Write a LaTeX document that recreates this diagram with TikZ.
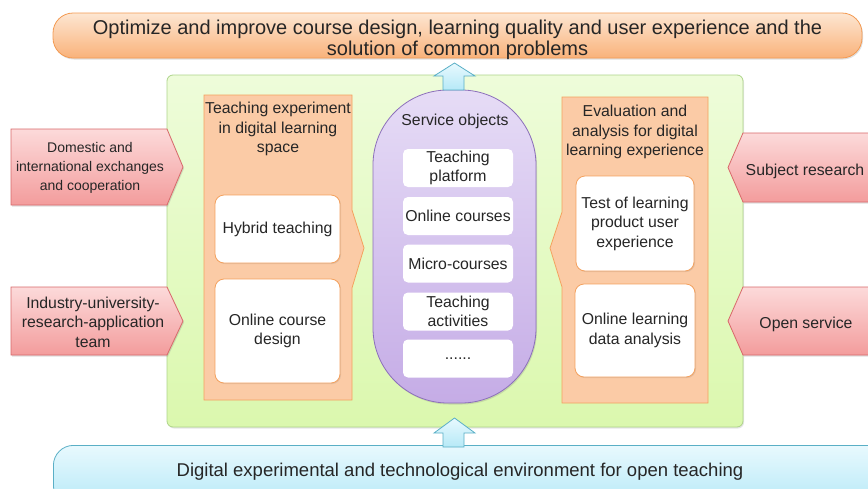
\documentclass[tikz,border=0pt]{standalone}
\usepackage{fontspec}
\setmainfont{Liberation Sans}
\usepackage{tikz}
\usetikzlibrary{positioning,shadows}

\definecolor{bannerO}{HTML}{F9B27A}
\definecolor{bannerOl}{HTML}{FDE6D2}
\definecolor{bannerOd}{HTML}{F39A52}
\definecolor{envB}{HTML}{B6E9F7}
\definecolor{envBl}{HTML}{E8F9FE}
\definecolor{envBd}{HTML}{5AAFC6}
\definecolor{greenF}{HTML}{DBF8AE}
\definecolor{greenFl}{HTML}{EEFCDA}
\definecolor{greenD}{HTML}{AED48A}
\definecolor{panelF}{HTML}{FBCBA6}
\definecolor{panelD}{HTML}{F4A15E}
\definecolor{purF}{HTML}{C5ACE6}
\definecolor{purFl}{HTML}{E6DCF6}
\definecolor{purD}{HTML}{8C6FBB}
\definecolor{redF}{HTML}{F39C9C}
\definecolor{redFl}{HTML}{FCDADA}
\definecolor{redD}{HTML}{D8686A}

\begin{document}
\begin{tikzpicture}[x=1pt,y=-1pt,
  txt/.style={font=\fontsize{15.8}{19.5}\selectfont, align=center, text=black!85},
  banner/.style={rounded corners=20pt, line width=0.8pt,
    drop shadow={opacity=0.25, shadow xshift=1pt, shadow yshift=-1.5pt}},
  sidearrow/.style={draw=redD, line width=0.8pt, top color=redFl, bottom color=redF,
    drop shadow={opacity=0.25, shadow xshift=1pt, shadow yshift=-1.5pt}},
  panel/.style={draw=panelD, line width=0.8pt, fill=panelF},
  wbox/.style={draw=panelD, fill=white, rounded corners=9pt, line width=0.8pt,
    drop shadow={opacity=0.2, shadow xshift=1pt, shadow yshift=-1pt}},
  sbox/.style={fill=white, rounded corners=5pt, minimum width=110pt, minimum height=38pt,
    inner sep=0pt, txt},
  uparrow/.style={draw=envBd, line width=0.8pt, top color=envBl, bottom color=envB},
]
\useasboundingbox (0,0) rectangle (868,488);

% banners top and bottom
\node[banner, draw=bannerOd, top color=bannerOl, bottom color=bannerO,
      minimum width=809pt, minimum height=45pt, inner sep=0pt] (goal) at (457.5,35.5) {};
\node[align=center, font=\fontsize{20}{21}\selectfont, text=black!85] (goaltext) at (457.5,39.5)
  {Optimize and improve course design, learning quality and user experience and the\\
   solution of common problems};
\node[banner, draw=envBd, top color=envBl, bottom color=envB,
      minimum width=840pt, minimum height=60pt, anchor=north west, inner sep=0pt] (env) at (53,445) {};
\node[font=\fontsize{18.5}{20}\selectfont, text=black!85] (envtext) at (460,472)
  {Digital experimental and technological environment for open teaching};

% green frame
\node[draw=greenD, line width=0.8pt, top color=greenFl, bottom color=greenF,
      rounded corners=6pt, minimum width=576pt, minimum height=352pt,
      drop shadow={opacity=0.2, shadow xshift=1pt, shadow yshift=-1.5pt}] (frame) at (455,251) {};

% left panel
\path[panel] (204,95) -- (352,95) -- (352,210) -- (364,248) -- (352,288) -- (352,400)
  -- (204,400) -- cycle;
\node[txt] (ltitle) at (278,129) {Teaching experiment\\in digital learning\\space};
\node[wbox, txt, minimum width=125pt, minimum height=68pt] (hybrid) at (277.5,229) {Hybrid teaching};
\node[wbox, txt, minimum width=125pt, minimum height=104pt] (ocd) at (277.5,331) {Online course\\design};

% right panel
\path[panel] (562,97) -- (708,97) -- (708,403) -- (562,403) -- (562,287) -- (550,248)
  -- (562,212) -- cycle;
\node[txt] (rtitle) at (635,132) {Evaluation and\\analysis for digital\\learning experience};
\node[wbox, txt, minimum width=118pt, minimum height=95pt] (test) at (635,223.5)
  {Test of learning\\product user\\experience};
\node[wbox, txt, minimum width=120pt, minimum height=93pt] (olda) at (635,330.5)
  {Online learning\\data analysis};

% service objects
\node[draw=purD, line width=0.8pt, top color=purFl, bottom color=purF, rounded corners=75pt,
      minimum width=163pt, minimum height=313pt,
      drop shadow={opacity=0.25, shadow xshift=1pt, shadow yshift=-1.5pt}] (svc) at (454.5,246.5) {};
\node[txt] (svctitle) at (455,121) {Service objects};
\node[sbox] (tp) at (458,168) {Teaching\\platform};
\node[sbox] (oc) at (458,216) {Online courses};
\node[sbox] (mc) at (458,263.5) {Micro-courses};
\node[sbox] (ta) at (458,311.5) {Teaching\\activities};
\node[sbox] (more) at (458,358.5) {......};

% up arrows
\draw[uparrow] (443,90) -- (443,76) -- (434,76) -- (454.5,63) -- (475,76) -- (464,76)
  -- (464,90) -- cycle;
\draw[uparrow] (443,447) -- (443,433) -- (434,433) -- (454.5,418) -- (475,433) -- (464,433)
  -- (464,447) -- cycle;

% side inputs
\path[sidearrow] (11,129) -- (167,129) -- (183,167) -- (167,205) -- (11,205) -- cycle;
\node[txt, font=\fontsize{14}{19}\selectfont] (dom) at (90,168)
  {Domestic and\\international exchanges\\and cooperation};
\path[sidearrow] (11,287) -- (167,287) -- (183,321) -- (167,355) -- (11,355) -- cycle;
\node[txt] (ind) at (93,322) {Industry-university-\\research-application\\team};
\path[sidearrow] (880,133) -- (743,133) -- (728,167.5) -- (743,202) -- (880,202) -- cycle;
\node[txt] (subj) at (805,171) {Subject research};
\path[sidearrow] (880,287) -- (743,287) -- (728,321) -- (743,355) -- (880,355) -- cycle;
\node[txt] (open) at (806,324) {Open service};
\end{tikzpicture}
\end{document}
